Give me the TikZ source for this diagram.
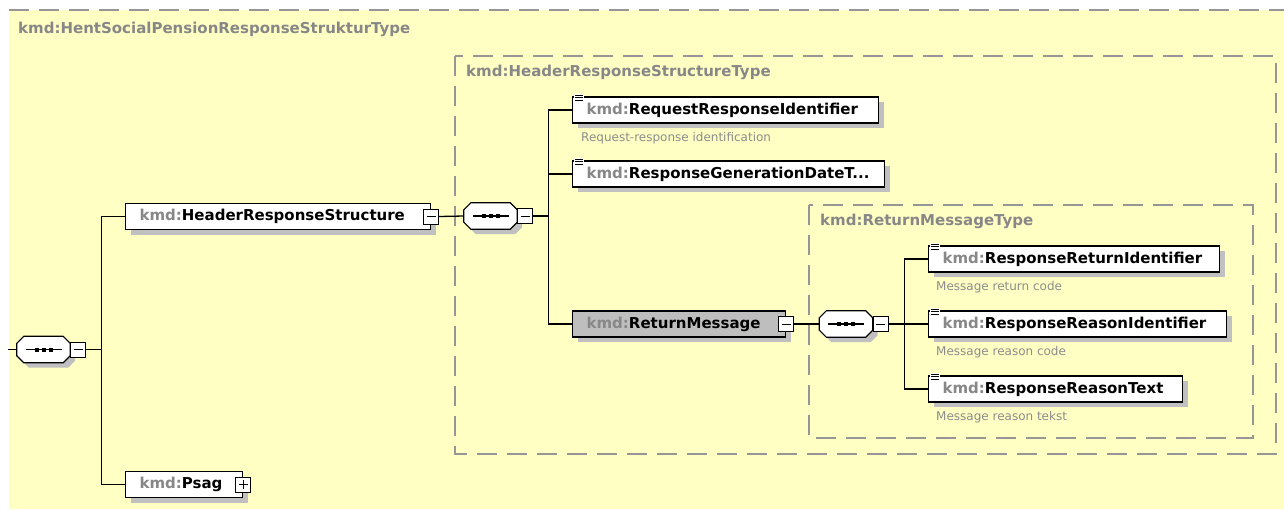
\documentclass[tikz,border=0pt]{standalone}
\usepackage{fontspec}
\setmainfont{DejaVu Sans}
\usetikzlibrary{positioning}
\usetikzlibrary{shadows}

\definecolor{bgyellow}{RGB}{255,255,196}
\definecolor{kmdgray}{RGB}{135,135,135}
\definecolor{descgray}{RGB}{140,140,140}
\definecolor{dashgray}{RGB}{150,150,150}
\definecolor{shadowgray}{RGB}{192,192,192}
\definecolor{refgray}{RGB}{190,190,190}

\newcommand{\kmd}[1]{\mbox{{\color{kmdgray}kmd:}#1}}
\newcommand{\elemfont}{\fontsize{15pt}{18pt}\selectfont\bfseries}
\newcommand{\descfont}{\fontsize{12pt}{14pt}\selectfont}

% little "documented" mark in the top left corner of a leaf
\newcommand{\docicon}[1]{%
  \fill[white] ([xshift=2pt,yshift=2pt]#1.north west) rectangle ++(10,9);
  \foreach \dy in {1,3.5,6}
    \draw[line width=0.9pt] ([xshift=3pt,yshift={2pt-\dy pt}]#1.north west) -- ++(8,0);
}

% octagon outline of a sequence node, shifted by (#2,#3)
\newcommand{\octpath}[3]{%
  ([shift={(7pt+#2,#3)}]#1.north west) -- ([shift={(-7pt+#2,#3)}]#1.north east)
  -- ([shift={(#2,-7pt+#3)}]#1.north east) -- ([shift={(#2,7pt+#3)}]#1.south east)
  -- ([shift={(-7pt+#2,#3)}]#1.south east) -- ([shift={(7pt+#2,#3)}]#1.south west)
  -- ([shift={(#2,7pt+#3)}]#1.south west) -- ([shift={(#2,-7pt+#3)}]#1.north west)
  -- cycle}

% sequence compositor: shadow, octagon and the dotted line
\newcommand{\seqshape}[1]{%
  \fill[shadowgray] \octpath{#1}{5pt}{-5pt};
  \draw[line width=1.2pt, fill=white] \octpath{#1}{0pt}{0pt};
  \draw[line width=1.2pt] ([xshift=-18pt]#1.center) -- ([xshift=18pt]#1.center);
  \foreach \dx in {-7,0,7}
    \fill ([xshift={\dx pt-2pt},yshift=-2pt]#1.center) rectangle ++(4,-4);
}

\tikzset{
  elem/.style={draw, line width=1.2pt, fill=white, anchor=west,
    minimum height=26pt, inner xsep=14pt, inner ysep=0pt, align=left,
    font=\elemfont,
    drop shadow={shadow xshift=5pt, shadow yshift=-5pt, fill=shadowgray, opacity=1}},
  seq/.style={minimum width=53pt, minimum height=26pt, inner sep=0pt},
  tog/.style={draw, line width=1pt, fill=white, minimum width=15pt,
    minimum height=15pt, inner sep=0pt,
    path picture={
      \draw[line width=1pt] ([xshift=3pt]path picture bounding box.west)
        -- ([xshift=-3pt]path picture bounding box.east);
    }},
  plustog/.style={tog,
    path picture={
      \draw[line width=1pt] ([xshift=3pt]path picture bounding box.west)
        -- ([xshift=-3pt]path picture bounding box.east);
      \draw[line width=1pt] ([yshift=3pt]path picture bounding box.south)
        -- ([yshift=-3pt]path picture bounding box.north);
    }},
  typelabel/.style={anchor=west, inner sep=0pt, text=kmdgray, font=\elemfont},
  desc/.style={anchor=west, inner sep=0pt, text=descgray, font=\descfont},
  dashline/.style={draw=dashgray, line width=1.2pt, dash pattern=on 20pt off 10pt},
  conn/.style={draw, line width=1.3pt}
}

\begin{document}
\begin{tikzpicture}[x=1pt, y=-1pt]
  \useasboundingbox (0,0) rectangle (1284,509);

  % complex type frames
  \fill[bgyellow] (9,10) rectangle (1284,509);
  \draw[dashline] (9,10) -- (1284,10);
  \draw[dashline, fill=bgyellow] (455,56) rectangle (1276,454);
  \draw[dashline, fill=bgyellow] (809,205) rectangle (1253,438);

  \node[typelabel] (typeroot) at (18,29) {kmd:HentSocialPensionResponseStrukturType};
  \node[typelabel] (typehdr) at (466,72) {kmd:HeaderResponseStructureType};
  \node[typelabel] (typerm) at (820,221) {kmd:ReturnMessageType};

  % root sequence
  \node[seq] (rootseq) at (43.5,349.5) {};
  \seqshape{rootseq}
  \node[tog, right=0pt of rootseq] (roottog) {};
  \coordinate (rootin) at (8,349.5);

  \node[elem, text width=277pt] (hrs) at (125,216.5) {\kmd{HeaderResponseStructure}};
  \node[tog] (hrstog) at (hrs.east) {};
  \node[elem, text width=89pt] (psag) at (125,484.5) {\kmd{Psag}};
  \node[plustog] (psagtog) at (psag.east) {};

  % header sequence
  \node[seq] (hdrseq) at (490.5,216) {};
  \seqshape{hdrseq}
  \node[tog, right=0pt of hdrseq] (hdrtog) {};

  \node[elem, text width=278pt] (rri) at (572,110) {\kmd{RequestResponseIdentifier}};
  \node[desc] (descrri) at ([xshift=9pt,yshift=-15pt]rri.south west) {Request-response identification};
  \node[elem, text width=284pt] (rgdt) at (572,174) {\kmd{ResponseGenerationDateT...}};
  \node[elem, fill=refgray, text width=185pt] (rm) at (572,324) {\kmd{ReturnMessage}};
  \node[tog] (rmtog) at (rm.east) {};

  % return message sequence
  \node[seq] (rmseq) at (846,324) {};
  \seqshape{rmseq}
  \node[tog, right=0pt of rmseq] (rmseqtog) {};

  \node[elem, text width=263pt] (rrid) at (928,259) {\kmd{ResponseReturnIdentifier}};
  \node[desc] (descrrid) at ([xshift=8pt,yshift=-15pt]rrid.south west) {Message return code};
  \node[elem, text width=270pt] (rreas) at (928,324) {\kmd{ResponseReasonIdentifier}};
  \node[desc] (descrreas) at ([xshift=8pt,yshift=-15pt]rreas.south west) {Message reason code};
  \node[elem, text width=226pt] (rrt) at (928,389) {\kmd{ResponseReasonText}};
  \node[desc] (descrrt) at ([xshift=8pt,yshift=-15pt]rrt.south west) {Message reason tekst};

  % connectors
  \draw[conn] (rootin) -- (rootseq.west);
  \draw[conn] (roottog.east) -- ++(15.5,0) |- (hrs.west);
  \draw[conn] (roottog.east) -- ++(15.5,0) |- (psag.west);
  \draw[conn] (hrstog.east) -- (hdrseq.west);
  \draw[conn] (hdrtog.east) -- ++(15,0) |- (rri.west);
  \draw[conn] (hdrtog.east) -- ++(15,0) |- (rgdt.west);
  \draw[conn] (hdrtog.east) -- ++(15,0) |- (rm.west);
  \draw[conn] (rmtog.east) -- (rmseq.west);
  \draw[conn] (rmseqtog.east) -- ++(15.5,0) |- (rrid.west);
  \draw[conn] (rmseqtog.east) -- ++(15.5,0) |- (rreas.west);
  \draw[conn] (rmseqtog.east) -- ++(15.5,0) |- (rrt.west);

  \docicon{rri}
  \docicon{rgdt}
  \docicon{rrid}
  \docicon{rreas}
  \docicon{rrt}
\end{tikzpicture}
\end{document}
